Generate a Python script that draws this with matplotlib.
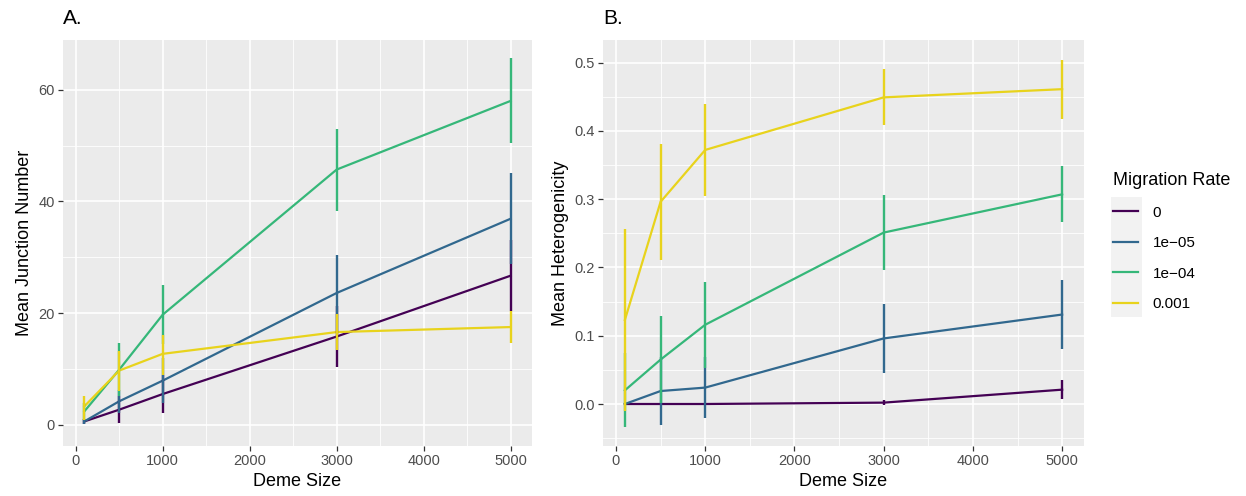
import matplotlib
matplotlib.use("Agg")
import matplotlib.pyplot as plt
from matplotlib.ticker import MultipleLocator
from matplotlib.patches import Rectangle

plt.rcParams['font.family'] = ['Liberation Sans', 'DejaVu Sans']

deme_size = [100, 500, 1000, 3000, 5000]
rates = ['0', '1e\u221205', '1e\u221204', '0.001']
colors = ['#440154', '#31688E', '#35B779', '#E8D31C']

# Panel A: mean junction number
jn_mean = {
    '0':      [0.6, 2.7, 5.5, 15.8, 26.7],
    '1e-05':  [0.6, 4.2, 7.9, 23.6, 36.9],
    '1e-04':  [2.4, 9.85, 19.7, 45.7, 58.0],
    '0.001':  [3.3, 9.7, 12.7, 16.6, 17.5],
}
jn_lo = {
    '0':      [0.2, 0.3, 2.1, 10.3, 20.3],
    '1e-05':  [0.1, 2.1, 3.9, 16.8, 28.8],
    '1e-04':  [0.9, 5.1, 14.4, 38.3, 50.4],
    '0.001':  [0.9, 6.0, 9.0, 13.4, 14.6],
}
jn_hi = {
    '0':      [1.0, 5.1, 8.9, 21.3, 33.1],
    '1e-05':  [1.1, 6.3, 11.9, 30.4, 45.0],
    '1e-04':  [3.9, 14.6, 25.0, 53.0, 65.6],
    '0.001':  [5.2, 13.3, 16.1, 19.8, 20.3],
}

# Panel B: mean heterogenicity
het_mean = {
    '0':      [0.0, 0.0, 0.0, 0.002, 0.021],
    '1e-05':  [0.0, 0.019, 0.024, 0.096, 0.131],
    '1e-04':  [0.020, 0.065, 0.116, 0.251, 0.307],
    '0.001':  [0.123, 0.296, 0.372, 0.449, 0.461],
}
het_lo = {
    '0':      [0.0, 0.0, 0.0, -0.002, 0.008],
    '1e-05':  [0.0, -0.031, -0.021, 0.045, 0.080],
    '1e-04':  [-0.034, 0.001, 0.053, 0.196, 0.266],
    '0.001':  [-0.010, 0.211, 0.305, 0.408, 0.418],
}
het_hi = {
    '0':      [0.0, 0.0, 0.0, 0.006, 0.035],
    '1e-05':  [0.0, 0.069, 0.069, 0.146, 0.182],
    '1e-04':  [0.074, 0.129, 0.178, 0.306, 0.348],
    '0.001':  [0.256, 0.380, 0.439, 0.490, 0.504],
}
keys = ['0', '1e-05', '1e-04', '0.001']

W, H = 1246, 496
fig = plt.figure(figsize=(W / 100, H / 100), dpi=100)

def px_axes(l, t, r, b):
    return fig.add_axes([l / W, 1 - b / H, (r - l) / W, (b - t) / H])

axA = px_axes(63, 40, 532, 446)
axB = px_axes(603, 40, 1084, 446)

def style(ax, ymajor, yminor, ylim):
    ax.set_facecolor('#EBEBEB')
    ax.set_xlim(-145, 5245)
    ax.set_ylim(*ylim)
    ax.xaxis.set_major_locator(MultipleLocator(1000))
    ax.xaxis.set_minor_locator(MultipleLocator(500))
    ax.yaxis.set_major_locator(MultipleLocator(ymajor))
    ax.yaxis.set_minor_locator(MultipleLocator(yminor))
    ax.grid(which='major', color='white', linewidth=1.2, zorder=0)
    ax.grid(which='minor', color='white', linewidth=0.6, zorder=0)
    ax.set_axisbelow(True)
    for s in ax.spines.values():
        s.set_visible(False)
    ax.tick_params(which='major', length=3.5, width=0.9, color='#333333',
                   labelcolor='#4D4D4D', labelsize=10.5, pad=2.5)
    ax.tick_params(which='minor', length=0)
    ax.set_xlabel('Deme Size', fontsize=13, color='black', labelpad=3)

def draw(ax, mean, lo, hi):
    handles = []
    for k, lab, c in zip(keys, rates, colors):
        ln, = ax.plot(deme_size, mean[k], color=c, linewidth=1.6, zorder=2, label=lab)
        handles.append(ln)
    for k, c in zip(keys, colors):
        ax.vlines(deme_size, lo[k], hi[k], color=c, linewidth=1.7, zorder=3)
    return handles

style(axA, 20, 10, (-3.8, 68.9))
handles = draw(axA, jn_mean, jn_lo, jn_hi)
axA.set_ylabel('Mean Junction Number', fontsize=13, labelpad=4)
axA.text(0.0, 1.03, 'A.', transform=axA.transAxes, fontsize=15, ha='left', va='bottom')

style(axB, 0.1, 0.05, (-0.0615, 0.533))
draw(axB, het_mean, het_lo, het_hi)
axB.set_ylabel('Mean Heterogenicity', fontsize=13, labelpad=4)
axB.yaxis.set_major_formatter(matplotlib.ticker.FormatStrFormatter('%.1f'))
axB.text(0.0, 1.03, 'B.', transform=axB.transAxes, fontsize=15, ha='left', va='bottom')

# legend key background
fig.patches.append(Rectangle((1111 / W, 1 - 317 / H), 31 / W, 120 / H,
                             transform=fig.transFigure, facecolor='#F2F2F2',
                             edgecolor='none', zorder=0))
leg = fig.legend(handles=handles, loc='upper left',
                 bbox_to_anchor=(1107 / W, 1 - 166 / H),
                 frameon=False, fontsize=11, title='Migration Rate',
                 title_fontsize=13, handlelength=1.6, handletextpad=1.0,
                 labelspacing=1.08, borderaxespad=0)
leg._legend_box.align = 'left'

fig.savefig('out.png', dpi=100)
